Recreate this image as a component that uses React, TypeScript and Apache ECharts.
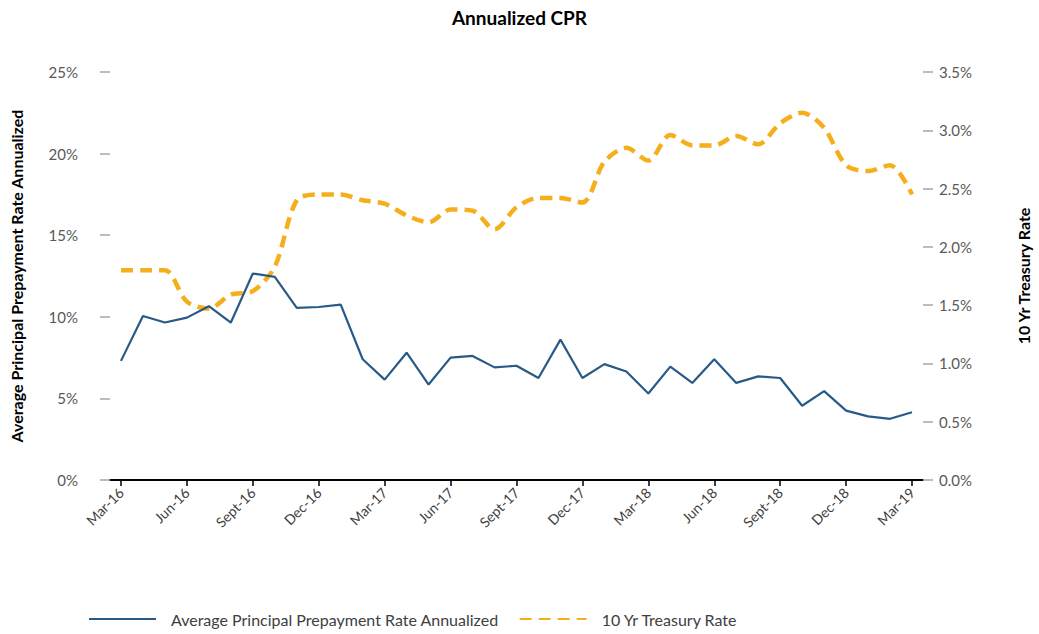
import React, { useEffect, useRef } from "react";
import * as echarts from "echarts";

const categories = [
  "Mar-16", "Apr-16", "May-16", "Jun-16", "Jul-16", "Aug-16", "Sept-16", "Oct-16", "Nov-16", "Dec-16", "Jan-17", "Feb-17",
  "Mar-17", "Apr-17", "May-17", "Jun-17", "Jul-17", "Aug-17", "Sept-17", "Oct-17", "Nov-17", "Dec-17", "Jan-18", "Feb-18",
  "Mar-18", "Apr-18", "May-18", "Jun-18", "Jul-18", "Aug-18", "Sept-18", "Oct-18", "Nov-18", "Dec-18", "Jan-19", "Feb-19",
  "Mar-19",
];

const cprValues = [
  7.3, 10.05, 9.65, 9.95, 10.65, 9.65, 12.65, 12.45, 10.55, 10.6, 10.75, 7.4,
  6.15, 7.8, 5.85, 7.5, 7.6, 6.9, 7.0, 6.25, 8.6, 6.25, 7.1, 6.65,
  5.3, 6.95, 5.95, 7.4, 5.95, 6.35, 6.25, 4.55, 5.45, 4.25, 3.9, 3.75,
  4.15,
];

const treasuryValues = [
  1.8, 1.8, 1.8, 1.53, 1.47, 1.59, 1.62, 1.83, 2.4, 2.45, 2.45, 2.4,
  2.37, 2.27, 2.21, 2.32, 2.31, 2.15, 2.34, 2.42, 2.42, 2.38, 2.73, 2.85,
  2.74, 2.96, 2.87, 2.87, 2.95, 2.88, 3.06, 3.15, 3.02, 2.7, 2.65, 2.7,
  2.45,
];

const leftTicks = [0, 5, 10, 15, 20, 25];
const rightTicks = [0, 0.5, 1, 1.5, 2, 2.5, 3, 3.5];

const FONT = "Lato";
const BLUE = "#285a87";
const GOLD = "#f5ae1c";

export default function App() {
  const ref = useRef<HTMLDivElement>(null);

  useEffect(() => {
    if (!ref.current) return;
    const chart = echarts.init(ref.current, undefined, { renderer: "svg" });
    chart.setOption({
      animation: false,
      backgroundColor: "#ffffff",
      textStyle: { fontFamily: FONT },
      title: {
        text: "Annualized CPR",
        left: "center",
        top: 3,
        textStyle: { fontFamily: FONT, fontSize: 19, fontWeight: "bold", color: "#000" },
      },
      legend: {
        left: 88,
        top: 611,
        padding: 0,
        itemWidth: 67,
        itemHeight: 10,
        itemGap: 20,
        itemStyle: { opacity: 0 },
        textStyle: { fontFamily: FONT, fontSize: 16, color: "#404040", padding: [0, 0, 0, 10] },
        data: [
          "Average Principal Prepayment Rate Annualized",
          "10 Yr Treasury Rate",
        ],
      },
      grid: { left: 105, right: 104, top: 72, bottom: 154 },
      xAxis: {
        type: "category",
        data: categories,
        boundaryGap: true,
        axisLine: { lineStyle: { color: "#000", width: 2 } },
        axisTick: { show: true, alignWithLabel: true, interval: 2, length: 6, lineStyle: { color: "#000", width: 1.5 } },
        axisLabel: { interval: 2, rotate: 45, fontFamily: FONT, fontSize: 14, color: "#404040", margin: 10 },
      },
      yAxis: [
        {
          type: "value",
          min: leftTicks[0],
          max: leftTicks[leftTicks.length - 1],
          interval: 5,
          position: "left",
          name: "Average Principal Prepayment Rate Annualized",
          nameLocation: "middle",
          nameRotate: 90,
          nameGap: 86,
          nameTextStyle: { fontFamily: FONT, fontSize: 16, fontWeight: "bold", color: "#000" },
          axisLine: { show: false },
          axisTick: { show: true, length: 10, lineStyle: { color: "#a6a6a6", width: 1.5 } },
          splitLine: { show: false },
          axisLabel: { formatter: "{value}%", fontFamily: FONT, fontSize: 15, color: "#595959", margin: 32 },
        },
        {
          type: "value",
          min: rightTicks[0],
          max: rightTicks[rightTicks.length - 1],
          interval: 0.5,
          position: "right",
          name: "10 Yr Treasury Rate",
          nameLocation: "middle",
          nameRotate: 90,
          nameGap: 92,
          nameTextStyle: { fontFamily: FONT, fontSize: 16, fontWeight: "bold", color: "#000" },
          axisLine: { show: false },
          axisTick: { show: true, length: 10, lineStyle: { color: "#a6a6a6", width: 1.5 } },
          splitLine: { show: false },
          axisLabel: { formatter: (v: number) => v.toFixed(1) + "%", fontFamily: FONT, fontSize: 15, color: "#595959", margin: 16 },
        },
      ],
      series: [
        {
          name: "Average Principal Prepayment Rate Annualized",
          type: "line",
          yAxisIndex: 0,
          data: cprValues,
          symbol: "none",
          lineStyle: { color: BLUE, width: 2.2 },
          itemStyle: { color: BLUE },
          z: 3,
        },
        {
          name: "10 Yr Treasury Rate",
          type: "line",
          yAxisIndex: 1,
          data: treasuryValues,
          symbol: "none",
          smooth: 0.3,
          lineStyle: { color: GOLD, width: 4.5, type: [12, 7] },
          itemStyle: { color: GOLD },
          z: 2,
        },
      ],
    });
    return () => chart.dispose();
  }, []);

  return (
    <div
      ref={ref}
      style={{ position: "fixed", left: 0, top: 0, width: 1039, height: 634 }}
    />
  );
}
